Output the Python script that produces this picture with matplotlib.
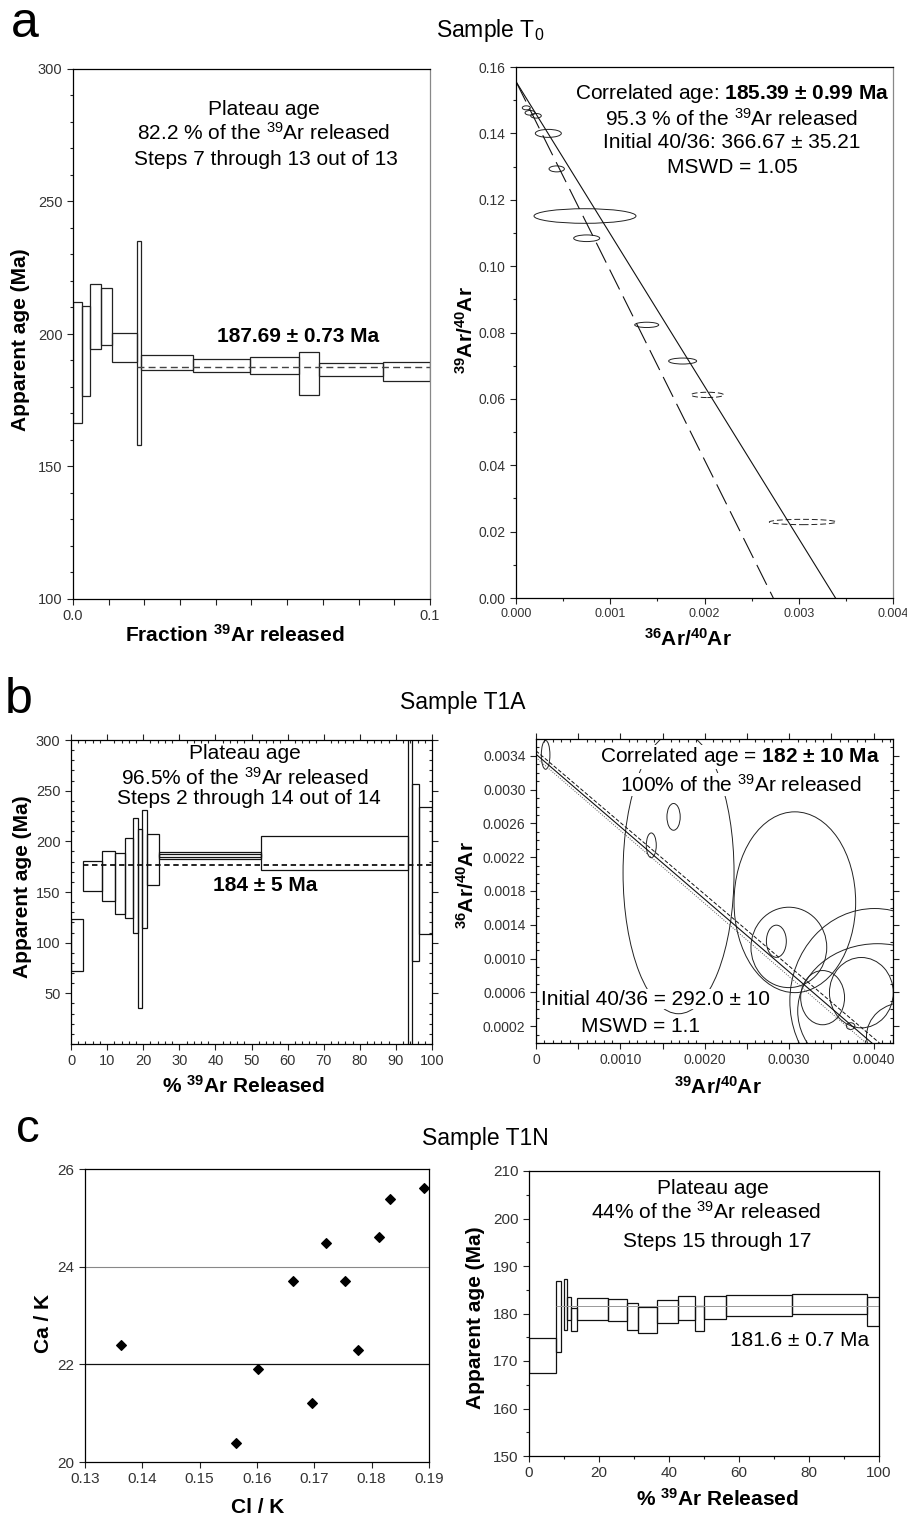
import matplotlib
matplotlib.use("Agg")
import matplotlib.pyplot as plt
from matplotlib.patches import Ellipse
from matplotlib.ticker import MultipleLocator, FixedLocator, FuncFormatter
import numpy as np

plt.rcParams['font.family'] = ['Liberation Sans', 'DejaVu Sans']
plt.rcParams['mathtext.fontset'] = 'custom'
plt.rcParams['mathtext.rm'] = 'Liberation Sans'
plt.rcParams['mathtext.bf'] = 'Liberation Sans:bold'
plt.rcParams['mathtext.it'] = 'Liberation Sans:italic'

# ---- a: sample T0, age spectrum (fraction released vs apparent age)
a_edges = [0.0, 0.0024, 0.0049, 0.0079, 0.0108, 0.0179, 0.0190, 0.0335,
           0.0495, 0.0634, 0.0689, 0.0867, 0.1000]
a_hi = [212.2, 210.6, 219.0, 217.4, 200.4, 235.0, 191.9, 190.7, 191.5, 193.2, 189.1, 189.6]
a_lo = [166.4, 176.5, 194.3, 196.0, 189.4, 158.3, 186.5, 185.6, 185.0, 177.0, 184.0, 182.3]
a_plateau = 187.69

# ---- a: inverse isochron ellipses (36Ar/40Ar, 39Ar/40Ar)
ai_x = [0.000109, 0.000149, 0.000212, 0.000343, 0.000432, 0.000732, 0.000750,
        0.001387, 0.001768, 0.002030, 0.003042]
ai_y = [0.1477, 0.1462, 0.1453, 0.1400, 0.1293, 0.1151, 0.1084,
        0.0823, 0.0714, 0.0612, 0.0229]
ai_w = [0.000085, 0.000106, 0.000113, 0.000276, 0.000163, 0.001082, 0.000276,
        0.000255, 0.000297, 0.000347, 0.000708]
ai_h = [0.0012, 0.0014, 0.0014, 0.0024, 0.0018, 0.0044, 0.0020,
        0.0016, 0.0018, 0.0016, 0.0016]
ai_dashed = [False] * 9 + [True, True]
ai_fit_solid = ([0.0, 0.00339], [0.1556, 0.0])
ai_fit_dashed = ([0.0, 0.00273], [0.1556, 0.0])

# ---- b: sample T1A, age spectrum (% released)
b_edges = [0, 3.4, 8.7, 12.2, 15.0, 17.1, 18.5, 19.6, 21.0, 24.5, 52.7, 93.4, 94.5, 96.5, 100]
b_hi = [123.4, 181.0, 190.5, 188.2, 203.0, 222.7, 212.2, 231.0, 207.0, 189.8, 205.3, 350.0, 257.0, 234.0]
b_lo = [72.4, 150.7, 140.8, 128.3, 124.0, 110.0, 35.9, 114.0, 157.0, 182.2, 171.7, -20.0, 82.0, 109.0]
b_inner = (24.5, 52.7, 184.2, 187.5)
b_plateau = 176.6

# ---- b: isochron ellipses (39Ar/40Ar, 36Ar/40Ar)
bi_x = [0.000114, 0.001689, 0.001630, 0.001366, 0.003067, 0.002996, 0.002848,
        0.004012, 0.004046, 0.003396, 0.003855, 0.004366, 0.003728]
bi_y = [0.003412, 0.002016, 0.002678, 0.002341, 0.001667, 0.001132, 0.001205,
        0.000498, 0.000379, 0.000537, 0.000596, 0.000081, 0.000200]
bi_w = [0.000102, 0.001315, 0.000157, 0.000118, 0.001441, 0.000898, 0.000236,
        0.002008, 0.001890, 0.000520, 0.000756, 0.000900, 0.000100]
bi_h = [0.000341, 0.003339, 0.000317, 0.000293, 0.002141, 0.000952, 0.000381,
        0.002189, 0.001594, 0.000642, 0.000833, 0.000800, 0.000080]
bi_fit = ([0.0, 0.00398], [0.00342, 0.0])
bi_env_hi = ([0.0, 0.00407], [0.00346, 0.0])
bi_env_lo = ([0.0, 0.00391], [0.00338, 0.0])

# ---- c: sample T1N, Ca/K vs Cl/K
c_clk = [0.1362, 0.1563, 0.1602, 0.1662, 0.1696, 0.1721, 0.1754, 0.1776, 0.1813, 0.1832, 0.1891]
c_cak = [22.39, 20.39, 21.90, 23.70, 21.20, 24.48, 23.70, 22.29, 24.60, 25.38, 25.61]
c_hlines = [24, 22]

# ---- c: age spectrum
c_x0 = [0, 7.7, 10.1, 10.8, 11.9, 13.6, 22.7, 27.9, 31.2, 36.5, 42.7, 47.4, 50.0, 56.2, 75.0, 96.7]
c_x1 = [7.7, 9.1, 10.8, 11.9, 13.6, 22.7, 27.9, 31.2, 36.5, 42.7, 47.4, 50.0, 56.2, 75.0, 96.7, 100]
c_lo = [167.5, 171.9, 176.5, 178.7, 176.3, 178.6, 178.4, 176.5, 175.8, 178.1, 178.7, 176.3, 178.9, 179.5, 179.8, 177.4]
c_hi = [174.8, 186.8, 187.3, 183.5, 181.2, 183.3, 183.1, 182.2, 181.3, 182.9, 183.7, 181.6, 183.7, 184.0, 184.2, 183.5]
c_plateau = 181.6

W, H = 907, 1519
fig = plt.figure(figsize=(W / 100, H / 100), dpi=100)


def px_axes(l, t, r, b):
    return fig.add_axes([l / W, 1 - b / H, (r - l) / W, (b - t) / H])


def style(ax, size=10.5, allsides=False):
    ax.tick_params(which='both', direction='out', width=0.8, labelsize=size,
                   labelcolor='#333', color='#222')
    ax.tick_params(which='major', length=4)
    ax.tick_params(which='minor', length=2.5)
    if allsides:
        ax.tick_params(which='both', top=True, right=True)
        ax.tick_params(which='minor', direction='in', length=2)
    for s in ax.spines.values():
        s.set_linewidth(0.9)


def steps(ax, x0, x1, lo, hi, **kw):
    x0 = np.asarray(x0, float); x1 = np.asarray(x1, float)
    lo = np.asarray(lo, float); hi = np.asarray(hi, float)
    ax.bar(x0, hi - lo, width=x1 - x0, bottom=lo, align='edge', fill=False, **kw)


txt = dict(fontsize=15, ha='center', va='center')
LAB = 15

# ================= a left
ax = px_axes(73, 69, 430, 599)
steps(ax, a_edges[:-1], a_edges[1:], a_lo, a_hi, edgecolor='#222', linewidth=0.9)
ax.hlines(a_plateau, a_edges[5], a_edges[-1], colors='#444', linewidth=1.0,
          linestyles=(0, (5, 3)))
ax.set_xlim(0, 0.1)
ax.set_ylim(100, 300)
ax.xaxis.set_major_locator(MultipleLocator(0.01))
ax.xaxis.set_major_formatter(FuncFormatter(
    lambda v, p: f"{v:.1f}" if abs(v) < 1e-9 or abs(v - 0.1) < 1e-9 else ""))
ax.yaxis.set_major_locator(MultipleLocator(50))
ax.yaxis.set_minor_locator(MultipleLocator(10))
style(ax)
ax.spines['right'].set_color('#888')
ax.text(0.535, 0.9245, "Plateau age", transform=ax.transAxes, **txt)
ax.text(0.535, 0.879, r"82.2 % of the $^{39}$Ar released", transform=ax.transAxes, **txt)
ax.text(0.540, 0.830, "Steps 7 through 13 out of 13", transform=ax.transAxes, **txt)
ax.text(0.630, 0.495, "187.69 ± 0.73 Ma", transform=ax.transAxes, fontweight='bold', **txt)
ax.set_ylabel("Apparent age (Ma)", fontsize=LAB, fontweight='bold', va='center')
ax.yaxis.set_label_coords(-0.147, 0.49)
ax.set_xlabel(r"Fraction $^{\mathbf{39}}$Ar released", fontsize=LAB, fontweight='bold', va='center')
ax.xaxis.set_label_coords(0.454, -0.068)

# ================= a right
ax = px_axes(516, 67, 893, 598)
for x, y, w, h, d in zip(ai_x, ai_y, ai_w, ai_h, ai_dashed):
    ax.add_patch(Ellipse((x, y), w, h, fill=False, linewidth=0.7, edgecolor='#222',
                         linestyle=(0, (6, 3)) if d else '-'))
ax.plot(*ai_fit_solid, color='#111', linewidth=0.8)
ax.plot(*ai_fit_dashed, color='#111', linewidth=0.8, linestyle=(0, (20, 7)))
ax.set_xlim(0, 0.004)
ax.set_ylim(0, 0.16)
ax.xaxis.set_major_locator(MultipleLocator(0.001))
ax.xaxis.set_minor_locator(MultipleLocator(0.0005))
ax.xaxis.set_major_formatter(FuncFormatter(lambda v, p: f"{v:.3f}"))
ax.yaxis.set_major_locator(MultipleLocator(0.02))
ax.yaxis.set_minor_locator(MultipleLocator(0.01))
ax.yaxis.set_major_formatter(FuncFormatter(lambda v, p: f"{v:.2f}"))
style(ax, size=10)
ax.tick_params(axis='x', labelsize=9)
ax.spines['right'].set_color('#888')
ax.text(0.573, 0.951, r"Correlated age: $\mathbf{185.39\ ±\ 0.99\ Ma}$", transform=ax.transAxes, **txt)
ax.text(0.573, 0.902, r"95.3 % of the $^{39}$Ar released", transform=ax.transAxes, **txt)
ax.text(0.573, 0.857, "Initial 40/36: 366.67 ± 35.21", transform=ax.transAxes, **txt)
ax.text(0.573, 0.810, "MSWD = 1.05", transform=ax.transAxes, **txt)
ax.set_ylabel(r"$^{\mathbf{39}}$Ar/$^{\mathbf{40}}$Ar", fontsize=LAB, fontweight='bold', va='center')
ax.yaxis.set_label_coords(-0.132, 0.505)
ax.set_xlabel(r"$^{\mathbf{36}}$Ar/$^{\mathbf{40}}$Ar", fontsize=LAB, fontweight='bold', va='center')
ax.xaxis.set_label_coords(0.456, -0.077)

# ================= b left
ax = px_axes(71, 740, 432, 1044)
steps(ax, b_edges[:-1], b_edges[1:], b_lo, b_hi, edgecolor='#111', linewidth=0.9)
steps(ax, [b_inner[0]], [b_inner[1]], [b_inner[2]], [b_inner[3]], edgecolor='#111', linewidth=0.9)
ax.hlines(b_plateau, b_edges[1], b_edges[-1], colors='#111', linewidth=1.3,
          linestyles=(0, (3, 2)))
ax.set_xlim(0, 100)
ax.set_ylim(0, 300)
ax.xaxis.set_major_locator(MultipleLocator(10))
ax.xaxis.set_minor_locator(MultipleLocator(2))
ax.yaxis.set_major_locator(FixedLocator(np.arange(50, 301, 50)))
ax.yaxis.set_minor_locator(MultipleLocator(10))
style(ax, size=10.5, allsides=True)
ax.text(0.482, 0.954, "Plateau age", transform=ax.transAxes, **txt)
ax.text(0.480, 0.874, r"96.5% of the $^{39}$Ar released", transform=ax.transAxes, **txt)
ax.text(0.492, 0.806, "Steps 2 through 14 out of 14", transform=ax.transAxes, **txt)
ax.text(0.537, 0.523, "184 ± 5 Ma", transform=ax.transAxes, fontweight='bold', **txt)
ax.set_ylabel("Apparent age (Ma)", fontsize=LAB, fontweight='bold', va='center')
ax.yaxis.set_label_coords(-0.134, 0.516)
ax.set_xlabel(r"% $^{\mathbf{39}}$Ar Released", fontsize=LAB, fontweight='bold', va='center')
ax.xaxis.set_label_coords(0.477, -0.138)

# ================= b right
ax = px_axes(536, 739, 893, 1043)
for x, y, w, h in zip(bi_x, bi_y, bi_w, bi_h):
    ax.add_patch(Ellipse((x, y), w, h, fill=False, linewidth=0.7, edgecolor='#222'))
ax.plot(*bi_fit, color='#111', linewidth=0.8)
ax.plot(*bi_env_hi, color='#111', linewidth=0.7, linestyle=(0, (4, 2)))
ax.plot(*bi_env_lo, color='#555', linewidth=0.7, linestyle=(0, (1, 1.5)))
ax.set_xlim(0, 0.00423)
ax.set_ylim(0, 0.0036)
ax.xaxis.set_major_locator(MultipleLocator(0.0005))
ax.xaxis.set_minor_locator(MultipleLocator(0.0001))
ax.xaxis.set_major_formatter(FuncFormatter(
    lambda v, p: "0" if abs(v) < 1e-12 else (f"{v:.4f}" if abs(round(v / 0.001) * 0.001 - v) < 1e-9 else "")))
ax.yaxis.set_major_locator(FixedLocator(np.arange(0.0002, 0.0035, 0.0004)))
ax.yaxis.set_minor_locator(MultipleLocator(0.0001))
ax.yaxis.set_major_formatter(FuncFormatter(lambda v, p: f"{v:.4f}"))
style(ax, size=10, allsides=True)
box = dict(facecolor='white', edgecolor='none', pad=0.5)
ax.text(0.571, 0.941, r"Correlated age = $\mathbf{182\ ±\ 10\ Ma}$", transform=ax.transAxes,
        bbox=box, zorder=5, **txt)
ax.text(0.574, 0.849, r"100% of the $^{39}$Ar released", transform=ax.transAxes,
        bbox=box, zorder=5, **txt)
ax.text(0.336, 0.144, "Initial 40/36 = 292.0 ± 10", transform=ax.transAxes,
        bbox=box, zorder=5, **txt)
ax.text(0.294, 0.054, "MSWD = 1.1", transform=ax.transAxes, bbox=box, zorder=5, **txt)
ax.set_ylabel(r"$^{\mathbf{36}}$Ar/$^{\mathbf{40}}$Ar", fontsize=LAB, fontweight='bold', va='center')
ax.yaxis.set_label_coords(-0.193, 0.52)
ax.set_xlabel(r"$^{\mathbf{39}}$Ar/$^{\mathbf{40}}$Ar", fontsize=LAB, fontweight='bold', va='center')
ax.xaxis.set_label_coords(0.51, -0.145)

# ================= c left
ax = px_axes(85, 1169, 429, 1462)
ax.axhline(c_hlines[0], color='#888', linewidth=0.8)
ax.axhline(c_hlines[1], color='#111', linewidth=0.9)
ax.scatter(c_clk, c_cak, marker='D', s=24, color='black', zorder=3)
ax.set_xlim(0.13, 0.19)
ax.set_ylim(20, 26)
ax.xaxis.set_major_locator(MultipleLocator(0.01))
ax.xaxis.set_major_formatter(FuncFormatter(lambda v, p: f"{v:.2f}"))
ax.yaxis.set_major_locator(MultipleLocator(2))
style(ax, size=11)
ax.set_ylabel("Ca / K", fontsize=LAB, fontweight='bold', va='center')
ax.yaxis.set_label_coords(-0.121, 0.471)
ax.set_xlabel("Cl / K", fontsize=LAB, fontweight='bold', va='center')
ax.xaxis.set_label_coords(0.501, -0.154)

# ================= c right
ax = px_axes(529, 1171, 879, 1456)
ax.hlines(c_plateau, c_x0[1], c_x1[-1], colors='#999', linewidth=0.7)
steps(ax, c_x0, c_x1, c_lo, c_hi, edgecolor='#111', linewidth=0.9)
ax.set_xlim(0, 100)
ax.set_ylim(150, 210)
ax.xaxis.set_major_locator(MultipleLocator(20))
ax.xaxis.set_minor_locator(MultipleLocator(10))
ax.yaxis.set_major_locator(MultipleLocator(10))
ax.yaxis.set_minor_locator(MultipleLocator(5))
style(ax, size=11)
ax.text(0.524, 0.939, "Plateau age", transform=ax.transAxes, **txt)
ax.text(0.507, 0.857, r"44% of the $^{39}$Ar released", transform=ax.transAxes, **txt)
ax.text(0.539, 0.754, "Steps 15 through 17", transform=ax.transAxes, **txt)
ax.text(0.773, 0.407, "181.6 ± 0.7 Ma", transform=ax.transAxes, **txt)
ax.set_ylabel("Apparent age (Ma)", fontsize=LAB, fontweight='bold', va='center')
ax.yaxis.set_label_coords(-0.154, 0.484)
ax.set_xlabel(r"% $^{\mathbf{39}}$Ar Released", fontsize=LAB, fontweight='bold', va='center')
ax.xaxis.set_label_coords(0.537, -0.151)

# ---- panel letters and sample titles
fig.text(25 / W, 1 - 37 / H, "a", fontsize=36, ha='center', va='baseline')
fig.text(19 / W, 1 - 700 / H, "b", fontsize=36, ha='center', va='center')
fig.text(28 / W, 1 - 1130 / H, "c", fontsize=34, ha='center', va='center')
fig.text(490 / W, 1 - 30 / H, r"Sample T$_0$", fontsize=16.5, ha='center', va='center')
fig.text(463 / W, 1 - 702 / H, "Sample T1A", fontsize=16.5, ha='center', va='center')
fig.text(485 / W, 1 - 1138 / H, "Sample T1N", fontsize=16.5, ha='center', va='center')

fig.savefig("out.png", dpi=100)
